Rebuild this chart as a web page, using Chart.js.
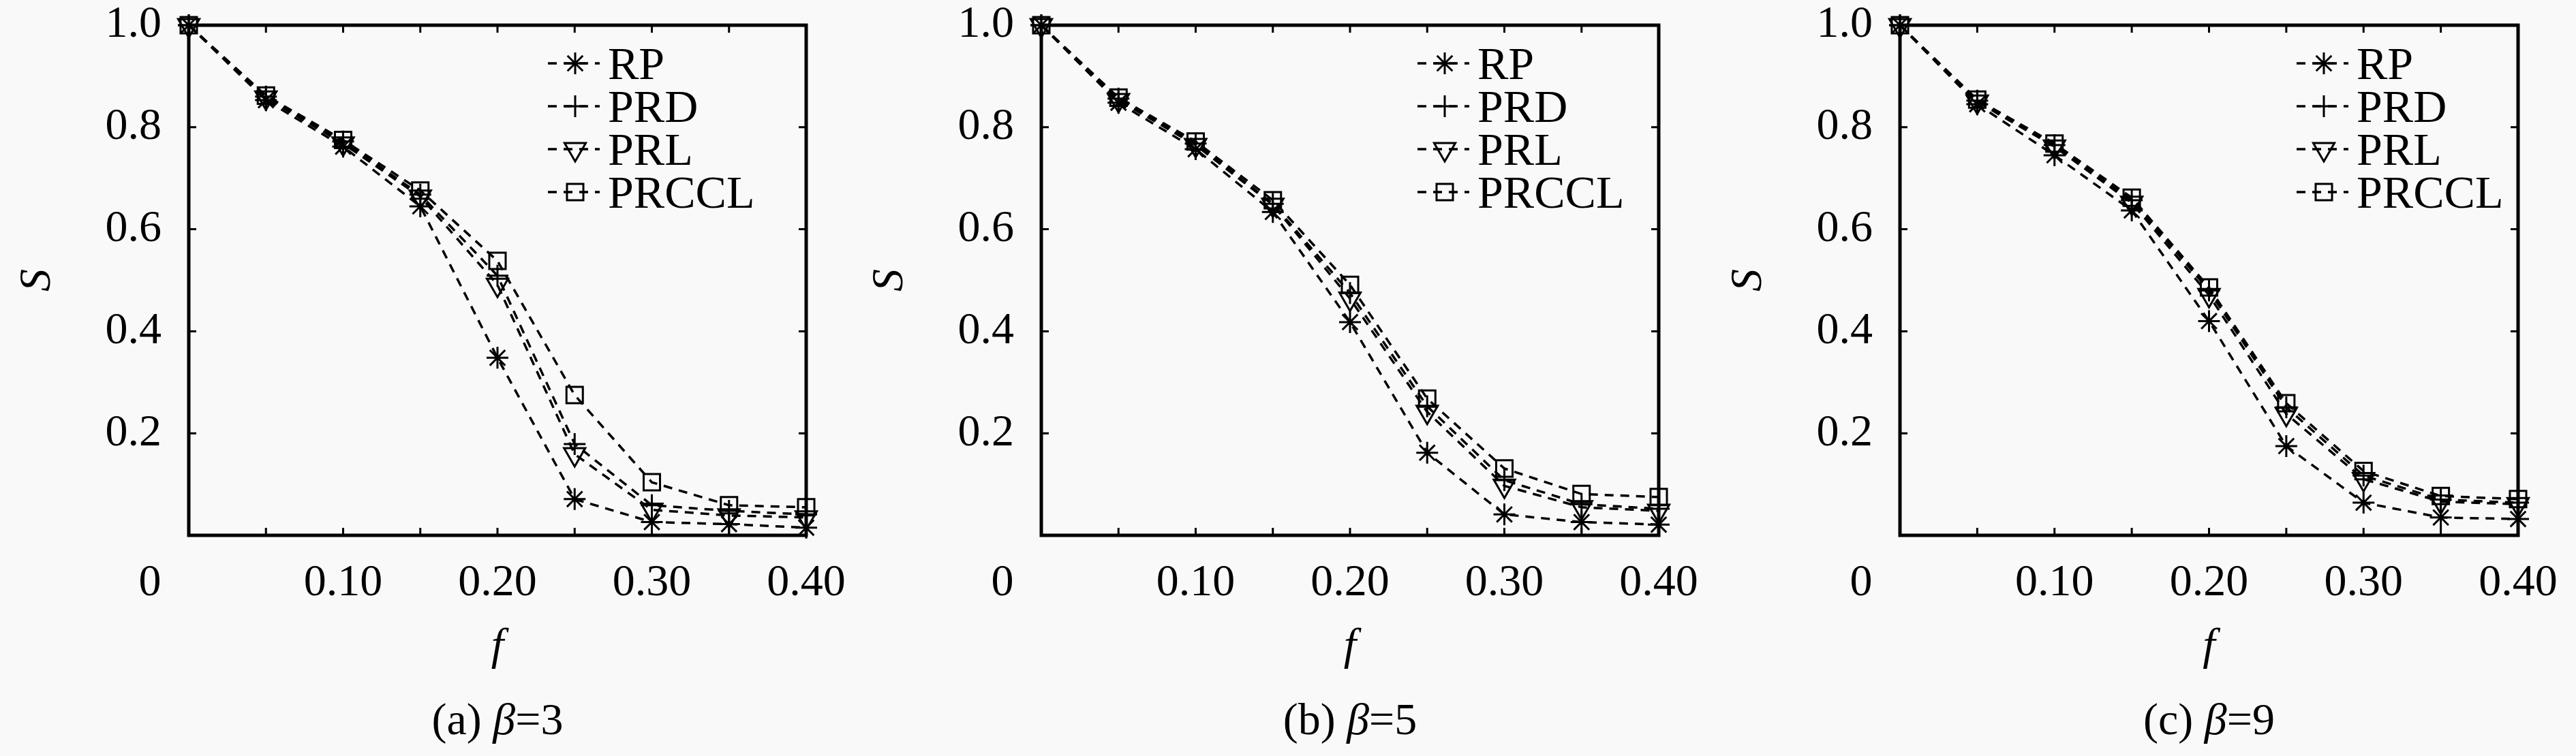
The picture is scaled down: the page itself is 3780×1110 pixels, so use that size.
<!DOCTYPE html>
<html>
<head>
<meta charset="utf-8">
<title>S vs f</title>
<script src="https://cdn.jsdelivr.net/npm/chart.js@4.4.0/dist/chart.umd.min.js"></script>
<style>
  body { margin: 0; background: #f9f9f9; width: 3780px; height: 1110px; overflow: hidden; }
  .panel { position: absolute; top: 0; width: 1260px; height: 1110px; }
</style>
</head>
<body>
<div class="panel" style="left:0px"><canvas id="chartA" width="1260" height="1110"></canvas></div>
<div class="panel" style="left:1260px"><canvas id="chartB" width="1260" height="1110"></canvas></div>
<div class="panel" style="left:2520px"><canvas id="chartC" width="1260" height="1110"></canvas></div>

<script>
// fraction of removed nodes
var fValues = [0, 0.05, 0.10, 0.15, 0.20, 0.25, 0.30, 0.35, 0.40];
var seriesNames = ["RP", "PRD", "PRL", "PRCCL"];

// (a) beta = 3
var rpBeta3    = [1.0, 0.853, 0.762, 0.645, 0.348, 0.071, 0.026, 0.022, 0.015];
var prdBeta3   = [1.0, 0.860, 0.772, 0.668, 0.509, 0.179, 0.059, 0.048, 0.041];
var prlBeta3   = [1.0, 0.858, 0.768, 0.664, 0.491, 0.159, 0.050, 0.039, 0.035];
var prcclBeta3 = [1.0, 0.862, 0.775, 0.676, 0.538, 0.275, 0.104, 0.059, 0.055];

// (b) beta = 5
var rpBeta5    = [1.0, 0.848, 0.757, 0.634, 0.418, 0.162, 0.041, 0.026, 0.021];
var prdBeta5   = [1.0, 0.856, 0.768, 0.650, 0.475, 0.253, 0.108, 0.061, 0.052];
var prlBeta5   = [1.0, 0.853, 0.765, 0.648, 0.464, 0.242, 0.097, 0.055, 0.048];
var prcclBeta5 = [1.0, 0.858, 0.772, 0.657, 0.491, 0.268, 0.131, 0.081, 0.075];

// (c) beta = 9
var rpBeta9    = [1.0, 0.845, 0.745, 0.637, 0.420, 0.175, 0.064, 0.035, 0.032];
var prdBeta9   = [1.0, 0.852, 0.765, 0.657, 0.480, 0.251, 0.117, 0.070, 0.064];
var prlBeta9   = [1.0, 0.850, 0.762, 0.652, 0.471, 0.238, 0.110, 0.066, 0.061];
var prcclBeta9 = [1.0, 0.854, 0.768, 0.662, 0.486, 0.259, 0.126, 0.077, 0.071];

var xTickStep = 0.05;
var yTickStep = 0.2;

var serif = "'Liberation Serif', 'DejaVu Serif', serif";
Chart.defaults.font.family = serif;
Chart.defaults.color = '#000';

// marker look per series
var markers = [
  { pointStyle: 'star', radius: 16, rotation: 0 },
  { pointStyle: 'cross', radius: 16, rotation: 0 },
  { pointStyle: 'triangle', radius: 18, rotation: 180 },
  { pointStyle: 'rect', radius: 17, rotation: 0 }
];

// inward ticks on all four sides plus the box
var frameTicks = {
  id: 'frameTicks',
  beforeDatasetsDraw: function(chart) {
    var ctx = chart.ctx;
    var a = chart.chartArea;
    var xs = chart.scales.x;
    var ys = chart.scales.y;
    ctx.save();
    ctx.strokeStyle = '#000';
    ctx.lineWidth = 3;
    xs.ticks.forEach(function(t) {
      var px = xs.getPixelForValue(t.value);
      ctx.beginPath();
      ctx.moveTo(px, a.bottom);
      ctx.lineTo(px, a.bottom - 11);
      ctx.moveTo(px, a.top);
      ctx.lineTo(px, a.top + 11);
      ctx.stroke();
    });
    ys.ticks.forEach(function(t) {
      var py = ys.getPixelForValue(t.value);
      ctx.beginPath();
      ctx.moveTo(a.left, py);
      ctx.lineTo(a.left + 11, py);
      ctx.moveTo(a.right, py);
      ctx.lineTo(a.right - 11, py);
      ctx.stroke();
    });
    ctx.lineWidth = 5;
    ctx.strokeRect(a.left, a.top, a.right - a.left, a.bottom - a.top);
    ctx.restore();
  }
};

// gnuplot style key: dashed sample with the marker in the middle
var keyLegend = {
  id: 'keyLegend',
  afterDatasetsDraw: function(chart, args, opts) {
    var ctx = chart.ctx;
    var a = chart.chartArea;
    ctx.save();
    chart.data.datasets.forEach(function(ds, i) {
      var x0 = a.left + opts.offsetX;
      var y = a.top + 56 + i * 63;
      ctx.strokeStyle = '#000';
      ctx.lineWidth = 3.5;
      ctx.setLineDash([13, 10]);
      ctx.beginPath();
      ctx.moveTo(x0, y);
      ctx.lineTo(x0 + 76, y);
      ctx.stroke();
      ctx.setLineDash([]);
      ctx.lineWidth = 3;
      ctx.fillStyle = 'rgba(0,0,0,0)';
      Chart.helpers.drawPoint(ctx, {
        pointStyle: ds.pointStyle,
        radius: ds.pointRadius,
        rotation: ds.pointRotation,
        borderWidth: 3
      }, x0 + 40, y);
      ctx.fillStyle = '#000';
      ctx.font = "68px " + serif;
      ctx.textAlign = 'left';
      ctx.textBaseline = 'alphabetic';
      ctx.fillText(ds.label, x0 + 88, y + 0.331 * 68);
    });
    ctx.restore();
  }
};

// origin "0" label and the panel caption
var caption = {
  id: 'caption',
  afterDraw: function(chart, args, opts) {
    var ctx = chart.ctx;
    var a = chart.chartArea;
    var up = "66px " + serif;
    var it = "italic 66px " + serif;
    ctx.save();
    ctx.fillStyle = '#000';
    ctx.font = up;
    ctx.textAlign = 'center';
    ctx.textBaseline = 'middle';
    ctx.fillText('0', a.left - 57, a.bottom + 31 + 39.6);

    var part1 = opts.tag + ' ';
    var part2 = '\u03b2';
    var part3 = '=' + opts.beta;
    ctx.font = up;
    var w1 = ctx.measureText(part1).width;
    var w3 = ctx.measureText(part3).width;
    ctx.font = it;
    var w2 = ctx.measureText(part2).width;
    var x = (a.left + a.right) / 2 - (w1 + w2 + w3) / 2;
    var base = 1078;
    ctx.textAlign = 'left';
    ctx.textBaseline = 'alphabetic';
    ctx.font = up;
    ctx.fillText(part1, x, base);
    ctx.font = it;
    ctx.fillText(part2, x + w1, base);
    ctx.font = up;
    ctx.fillText(part3, x + w1 + w2, base);
    ctx.restore();
  }
};

function makeDatasets(values) {
  return values.map(function(series, i) {
    return {
      label: seriesNames[i],
      data: fValues.map(function(f, j) { return { x: f, y: series[j] }; }),
      borderColor: '#000',
      borderWidth: 3.5,
      borderDash: [13, 10],
      tension: 0,
      fill: false,
      clip: false,
      pointStyle: markers[i].pointStyle,
      pointRadius: markers[i].radius,
      pointRotation: markers[i].rotation,
      pointBorderColor: '#000',
      pointBackgroundColor: 'rgba(0,0,0,0)',
      pointBorderWidth: 3
    };
  });
}

function showChart(canvasId, values, panel) {
  console.log("showChart " + canvasId);
  var ctx = document.getElementById(canvasId).getContext('2d');

  return new Chart(ctx, {
    type: 'line',
    data: {
      datasets: makeDatasets(values)
    },
    options: {
      responsive: false,
      animation: false,
      events: [],
      layout: {
        padding: { left: 0, right: 1260 - panel.plotRight, top: 37, bottom: 0 }
      },
      plugins: {
        legend: { display: false },
        tooltip: { enabled: false },
        keyLegend: { offsetX: panel.keyX },
        caption: { tag: panel.tag, beta: panel.beta }
      },
      scales: {
        x: {
          type: 'linear',
          min: 0,
          max: 0.4,
          grid: { display: false, drawTicks: false, tickLength: 0 },
          border: { display: false },
          ticks: {
            stepSize: xTickStep,
            autoSkip: false,
            maxRotation: 0,
            padding: 31,
            color: '#000',
            font: { family: serif, size: 66, lineHeight: 1.2 },
            callback: function(v) {
              var k = Math.round(v * 100);
              if (k === 0 || k % 10 !== 0) return '';
              return v.toFixed(2);
            }
          },
          title: {
            display: true,
            text: 'f',
            color: '#000',
            font: { family: serif, size: 66, style: 'italic', lineHeight: 1.2 },
            padding: { top: 0, bottom: 120 }
          },
          afterFit: function(scale) {
            scale.height = 324;
            scale.paddingLeft = 0;
            scale.paddingRight = 0;
          }
        },
        y: {
          type: 'linear',
          min: 0,
          max: 1,
          grid: { display: false, drawTicks: false, tickLength: 0 },
          border: { display: false },
          ticks: {
            stepSize: yTickStep,
            padding: 40,
            color: '#000',
            font: { family: serif, size: 66, lineHeight: 1.2 },
            callback: function(v) {
              if (v === 0) return '';
              return v.toFixed(1);
            }
          },
          title: {
            display: true,
            text: 'S',
            color: '#000',
            font: { family: serif, size: 66, style: 'italic', lineHeight: 1.2 },
            padding: { top: panel.plotLeft - 221 - 39.6, bottom: 0 }
          },
          afterFit: function(scale) {
            scale.width = panel.plotLeft;
            scale.paddingTop = 0;
            scale.paddingBottom = 0;
          }
        }
      }
    },
    plugins: [frameTicks, keyLegend, caption]
  });
}

var chartA = showChart('chartA', [rpBeta3, prdBeta3, prlBeta3, prcclBeta3],
  { plotLeft: 277, plotRight: 1183, keyX: 527, tag: '(a)', beta: '3' });
var chartB = showChart('chartB', [rpBeta5, prdBeta5, prlBeta5, prcclBeta5],
  { plotLeft: 268, plotRight: 1174, keyX: 552, tag: '(b)', beta: '5' });
var chartC = showChart('chartC', [rpBeta9, prdBeta9, prlBeta9, prcclBeta9],
  { plotLeft: 268, plotRight: 1175, keyX: 582, tag: '(c)', beta: '9' });
</script>
</body>
</html>
